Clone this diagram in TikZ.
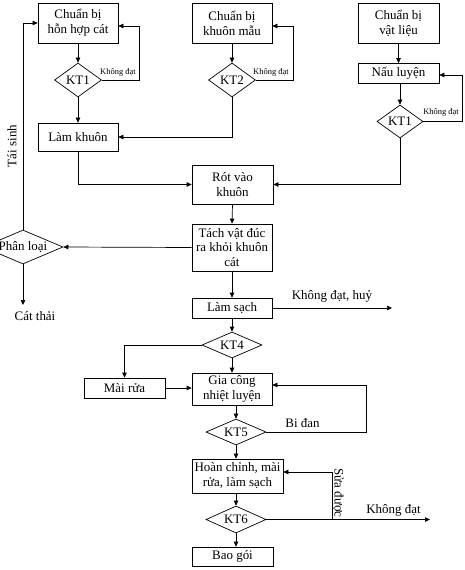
\documentclass[tikz,border=0pt]{standalone}
\usepackage{fontspec}
\setmainfont{Liberation Serif}
\usetikzlibrary{shapes.geometric,arrows.meta}
\begin{document}
\begin{tikzpicture}[x=1bp,y=-1bp,
 every node/.style={font=\fontsize{13}{15}\selectfont},
 box/.style={draw, line width=0.7bp, inner sep=0pt, align=center},
 dia/.style={draw, diamond, line width=0.7bp, inner sep=0pt},
 arr/.style={line width=0.7bp, -{Triangle[length=5bp,width=4.5bp]}},
 ln/.style={line width=0.7bp},
 small/.style={font=\fontsize{8.5}{10}\selectfont},
 lbl/.style={inner sep=0pt},
]
\useasboundingbox (0,0) rectangle (465,570);
\clip (0,0) rectangle (465,570);
% boxes
\node[box, minimum width=80bp, minimum height=40bp] (b1) at (78,23) {Chuẩn bị\\hỗn hợp cát};
\node[box, minimum width=80bp, minimum height=40bp] (b2) at (232,23) {Chuẩn bị\\khuôn mẫu};
\node[box, minimum width=81bp, minimum height=40bp] (b3) at (398.5,23) {Chuẩn bị\\vật liệu};
\node[dia, minimum width=47bp, minimum height=34bp, aspect=1.38] (d1) at (78,80) {KT1};
\node[dia, minimum width=47bp, minimum height=34bp, aspect=1.38] (d2) at (232,80) {KT2};
\node[box, minimum width=81bp, minimum height=20bp] (nl) at (398.5,73.5) {Nấu luyện};
\node[dia, minimum width=46bp, minimum height=33bp, aspect=1.39] (d3) at (400,121.5) {KT1};
\node[box, minimum width=80bp, minimum height=28bp] (lk) at (78,137) {Làm khuôn};
\node[box, minimum width=81bp, minimum height=39bp] (rot) at (232.5,184.5) {Rót vào\\khuôn};
\node[box, minimum width=80bp, minimum height=47bp] (tach) at (232,247.5) {Tách vật đúc\\ra khỏi khuôn\\cát};
\node[dia, minimum width=80bp, minimum height=34bp, aspect=2.35] (pl) at (23,247) {Phân loại};
\node[lbl] (ct) at (35,316) {Cát thải};
\node[box, minimum width=80bp, minimum height=20bp] (ls) at (232,308) {Làm sạch};
\node[dia, minimum width=60bp, minimum height=26bp, aspect=2.3] (kt4) at (232,345) {KT4};
\node[box, minimum width=81bp, minimum height=20bp] (mr) at (124.5,388) {Mài rửa};
\node[box, minimum width=80bp, minimum height=32bp] (gc) at (232,389) {Gia công\\nhiệt luyện};
\node[dia, minimum width=60bp, minimum height=26bp, aspect=2.3] (kt5) at (236,432) {KT5};
\node[box, minimum width=91bp, minimum height=34bp] (hc) at (237.5,476) {Hoàn chỉnh, mài\\rửa, làm sạch};
\node[dia, minimum width=60bp, minimum height=27bp, aspect=2.2] (kt6) at (236,519.5) {KT6};
\node[box, minimum width=81bp, minimum height=19bp] (bg) at (232.5,556.5) {Bao gói};
% free ends
\coordinate (ctend) at (23,305);
\coordinate (lsend) at (392,308);
\coordinate (k6end) at (430,519.5);
\coordinate (sd) at (332,519.5);
% connectors top
\draw[arr] (b1.south) -- (d1.north);
\draw[arr] (d1.east) -- ++(37,0) |- ([yshift=-3bp]b1.east);
\draw[arr] (d1.south) -- (lk.north);
\draw[arr] (b2.south) -- (d2.north);
\draw[arr] (d2.east) -- ++(37,0) |- ([yshift=-3bp]b2.east);
\draw[arr] (d2.south) |- (lk.east);
\draw[arr] (b3.south) -- (nl.north);
\draw[arr] (d3.north |- nl.south) -- (d3.north);
\draw[arr] (d3.east) -- ++(39,0) |- ([yshift=-1.5bp]nl.east);
\draw[arr] (d3.south) |- (rot.east);
\draw[arr] (lk.south) |- (rot.west);
\draw[arr] (rot.south) -- (tach.north);
\draw[arr] (tach.west) -- (pl.east);
\draw[arr] (pl.north) |- (b1.west);
\draw[arr] (pl.south) -- (ctend);
\draw[arr] (tach.south) -- (ls.north);
\draw[arr] (ls.east) -- (lsend);
\draw[arr] (ls.south) -- (kt4.north);
\draw[arr] (kt4.west) -| (mr.north);
\draw[arr] (kt4.south) -- (gc.north);
\draw[arr] (mr.east) -- (mr.east -| gc.west);
\draw[arr] (kt5.north |- gc.south) -- (kt5.north);
\draw[arr] (kt5.east) -- ++(100,0) |- ([yshift=4bp]gc.east);
\draw[arr] (kt5.south) -- (kt5.south |- hc.north);
\draw[arr] (kt6.north |- hc.south) -- (kt6.north);
\draw[arr] (kt6.east) -- (k6end);
\draw[arr] (sd) |- ([yshift=4bp]hc.east);
\draw[arr] (kt6.south) -- (kt6.south |- bg.north);
% labels
\node[small, lbl] (l1) at (118,72) {Không đạt};
\node[small, lbl] (l2) at (271,72) {Không đạt};
\node[small, lbl] (l3) at (441,112) {Không đạt};
\node[lbl, rotate=90] (ts) at (12,146) {Tái sinh};
\node[lbl] (l4) at (332,296) {Không đạt, huỷ};
\node[lbl] (l5) at (302.5,423) {Bi đan};
\node[lbl, rotate=-90] (l6) at (338,493) {Sửa được};
\node[lbl] (l7) at (393.5,510) {Không đạt};
\end{tikzpicture}
\end{document}
